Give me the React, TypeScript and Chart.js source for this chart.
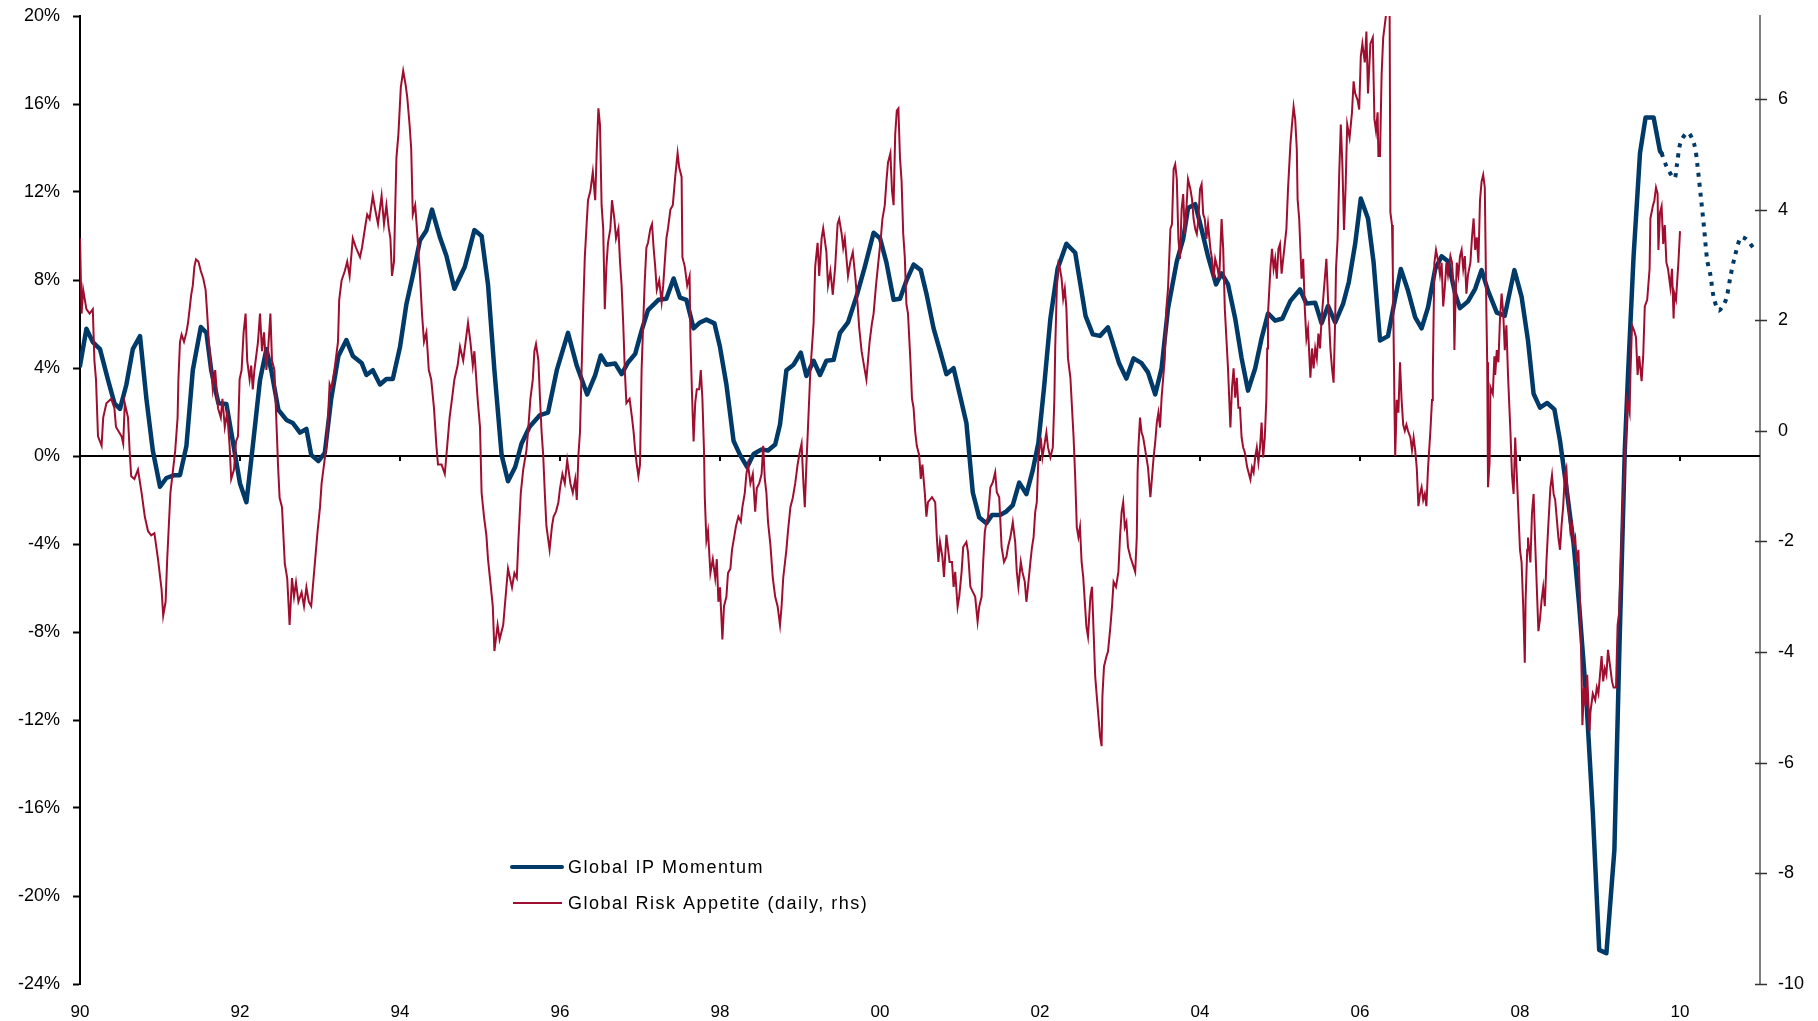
import React, { useEffect, useRef } from 'react';
import { Chart, registerables } from 'chart.js';

Chart.register(...registerables);

// ---------- Global IP Momentum (lhs, %) ----------
const ipYears = [
  1990.00, 1990.08, 1990.16, 1990.25, 1990.35, 1990.43, 1990.50, 1990.58, 1990.66, 1990.75, 1990.83, 1990.91,
  1991.00, 1991.08, 1991.18, 1991.25, 1991.33, 1991.41, 1991.51, 1991.58, 1991.64, 1991.73, 1991.83, 1991.91,
  1992.00, 1992.08, 1992.16, 1992.25, 1992.33, 1992.39, 1992.48, 1992.58, 1992.66, 1992.75, 1992.83, 1992.89, 1992.98,
  1993.06, 1993.14, 1993.23, 1993.33, 1993.41, 1993.52, 1993.58, 1993.66, 1993.75, 1993.83, 1993.91,
  1994.00, 1994.08, 1994.16, 1994.25, 1994.33, 1994.40, 1994.50, 1994.58, 1994.68, 1994.81, 1994.93,
  1995.02, 1995.10, 1995.18, 1995.27, 1995.35, 1995.44, 1995.52, 1995.62, 1995.75, 1995.85, 1995.96,
  1996.10, 1996.21, 1996.34, 1996.44, 1996.51, 1996.58, 1996.69, 1996.77, 1996.85, 1996.94,
  1997.02, 1997.10, 1997.23, 1997.33, 1997.42, 1997.50, 1997.58, 1997.67, 1997.75, 1997.83, 1997.93,
  1998.00, 1998.08, 1998.17, 1998.25, 1998.34, 1998.42, 1998.52, 1998.60, 1998.69, 1998.75, 1998.83, 1998.92,
  1999.01, 1999.08, 1999.17, 1999.25, 1999.33, 1999.42, 1999.50, 1999.60, 1999.71, 1999.81, 1999.92,
  2000.00, 2000.08, 2000.17, 2000.25, 2000.33, 2000.42, 2000.51, 2000.58, 2000.67, 2000.75, 2000.83, 2000.92,
  2001.00, 2001.08, 2001.16, 2001.24, 2001.33, 2001.40, 2001.50, 2001.58, 2001.66, 2001.74, 2001.83, 2001.91, 2001.98,
  2002.05, 2002.13, 2002.22, 2002.33, 2002.44, 2002.57, 2002.66, 2002.75, 2002.85, 2002.99,
  2003.08, 2003.17, 2003.27, 2003.35, 2003.44, 2003.52, 2003.60, 2003.71, 2003.79, 2003.85, 2003.94,
  2004.02, 2004.10, 2004.20, 2004.27, 2004.35, 2004.44, 2004.52, 2004.60, 2004.69, 2004.77, 2004.85, 2004.94,
  2005.03, 2005.13, 2005.25, 2005.33, 2005.44, 2005.52, 2005.60, 2005.69, 2005.79, 2005.86, 2005.94,
  2006.01, 2006.10, 2006.17, 2006.25, 2006.35, 2006.42, 2006.51, 2006.60, 2006.69, 2006.77, 2006.85, 2006.94,
  2007.02, 2007.10, 2007.19, 2007.25, 2007.35, 2007.44, 2007.52, 2007.60, 2007.71, 2007.81, 2007.93,
  2008.02, 2008.10, 2008.17, 2008.25, 2008.34, 2008.43, 2008.50, 2008.58, 2008.67, 2008.74, 2008.83, 2008.91, 2008.99,
  2009.08, 2009.18, 2009.24, 2009.31, 2009.35, 2009.42, 2009.50, 2009.57, 2009.67, 2009.75, 2009.77,
];
const ipValues = [
  4.1, 5.78, 5.18, 4.86, 3.46, 2.4, 2.14, 3.25, 4.86, 5.45, 2.6, 0.25,
  -1.4, -1.0, -0.87, -0.87, 0.45, 3.9, 5.86, 5.6, 3.9, 2.4, 2.36, 0.68,
  -1.25, -2.1, 0.45, 3.45, 4.86, 3.9, 2.1, 1.64, 1.5, 1.06, 1.23, 0.05, -0.23,
  0.14, 2.6, 4.55, 5.27, 4.55, 4.23, 3.68, 3.9, 3.25, 3.5, 3.5,
  4.95, 6.9, 8.2, 9.8, 10.25, 11.2, 9.93, 9.1, 7.6, 8.6, 10.27,
  10.0, 7.8, 3.9, 0.05, -1.15, -0.5, 0.57, 1.33, 1.86, 1.97, 3.9,
  5.6, 4.1, 2.8, 3.68, 4.57, 4.15, 4.2, 3.72, 4.25, 4.64,
  5.7, 6.63, 7.1, 7.15, 8.07, 7.2, 7.1, 5.8, 6.07, 6.2, 6.03,
  4.95, 3.25, 0.68, 0.05, -0.5, 0.09, 0.3, 0.25, 0.52, 1.43, 3.9, 4.15,
  4.7, 3.64, 4.33, 3.68, 4.33, 4.37, 5.6, 6.07, 7.3, 8.6, 10.15,
  9.9, 8.8, 7.1, 7.15, 7.97, 8.7, 8.45, 7.39, 5.8, 4.78, 3.72, 3.99,
  2.75, 1.5, -1.66, -2.79, -3.06, -2.68, -2.68, -2.52, -2.23, -1.21, -1.73, -0.64, 0.6,
  3.09, 6.25, 8.51, 9.65, 9.24, 6.36, 5.53, 5.46, 5.85, 4.2,
  3.52, 4.44, 4.22, 3.8, 2.8, 3.99, 6.7, 8.85, 9.87, 11.27, 11.45,
  10.3, 9.08, 7.8, 8.3, 7.8, 6.25, 4.45, 2.97, 3.99, 5.35, 6.48, 6.15,
  6.25, 7.05, 7.57, 6.93, 6.97, 6.03, 6.82, 6.07, 6.93, 7.9, 9.65,
  11.7, 10.8, 8.8, 5.25, 5.45, 6.8, 8.5, 7.52, 6.3, 5.8, 6.75, 8.5,
  9.08, 8.85, 7.37, 6.72, 7.03, 7.6, 8.45, 7.52, 6.52, 6.38, 8.45,
  7.23, 5.25, 2.83, 2.2, 2.41, 2.12, 0.7, -1.43, -3.99, -6.8, -11.1, -16.2, -22.45,
  -22.6, -17.9, -9.1, 0.27, 3.68, 9.09, 13.77, 15.39, 15.39, 13.86, 13.76,
];
const ipForecastYears = [
  2009.77, 2009.83, 2009.93, 2009.96, 2010.01, 2010.10, 2010.18, 2010.22, 2010.26, 2010.30, 2010.34,
  2010.38, 2010.42, 2010.48, 2010.53, 2010.58, 2010.63, 2010.68, 2010.76, 2010.83, 2010.92,
];
const ipForecastValues = [
  13.76, 13.18, 12.62, 13.2, 14.29, 14.7, 14.14, 13.15, 11.79, 10.4, 8.9,
  8.23, 7.24, 6.61, 6.79, 7.17, 8.15, 8.98, 9.94, 9.85, 9.44,
];

// ---------- Global Risk Appetite (daily, rhs) ----------
const riskYears1990s = [
  1990.00, 1990.02, 1990.04, 1990.08, 1990.12, 1990.16, 1990.18, 1990.20, 1990.225, 1990.27, 1990.29, 1990.33,
  1990.39, 1990.43, 1990.45, 1990.52, 1990.54, 1990.56, 1990.60, 1990.62, 1990.64, 1990.68, 1990.725, 1990.77,
  1990.81, 1990.85, 1990.89, 1990.93, 1990.975, 1991.02, 1991.04, 1991.07, 1991.09, 1991.11, 1991.13, 1991.16,
  1991.19, 1991.22, 1991.23, 1991.25, 1991.27, 1991.30, 1991.33, 1991.35, 1991.37, 1991.39, 1991.41, 1991.43,
  1991.45, 1991.48, 1991.51, 1991.54, 1991.57, 1991.59, 1991.61, 1991.64, 1991.66, 1991.69, 1991.725, 1991.76,
  1991.78, 1991.81, 1991.84, 1991.87, 1991.89, 1991.925, 1991.95, 1991.975, 1991.995, 1992.02, 1992.045, 1992.07,
  1992.09, 1992.12, 1992.14, 1992.16, 1992.18, 1992.225, 1992.25, 1992.275, 1992.30, 1992.33, 1992.35, 1992.38,
  1992.40, 1992.43, 1992.46, 1992.475, 1992.495, 1992.525, 1992.56, 1992.59, 1992.62, 1992.65, 1992.675, 1992.70,
  1992.73, 1992.77, 1992.80, 1992.83, 1992.86, 1992.89, 1992.92, 1992.94, 1992.97, 1993.00, 1993.02, 1993.05,
  1993.08, 1993.10, 1993.12, 1993.14, 1993.18, 1993.225, 1993.24, 1993.27, 1993.31, 1993.34, 1993.37, 1993.41,
  1993.45, 1993.50, 1993.525, 1993.57, 1993.59, 1993.62, 1993.66, 1993.69, 1993.725, 1993.77, 1993.80, 1993.83,
  1993.86, 1993.88, 1993.90, 1993.925, 1993.955, 1993.98, 1994.01, 1994.04, 1994.07, 1994.09, 1994.12, 1994.14,
  1994.16, 1994.19, 1994.22, 1994.25, 1994.275, 1994.30, 1994.33, 1994.36, 1994.39, 1994.425, 1994.455, 1994.475,
  1994.52, 1994.56, 1994.59, 1994.62, 1994.65, 1994.68, 1994.72, 1994.75, 1994.79, 1994.82, 1994.85, 1994.88,
  1994.91, 1994.93, 1994.97, 1995.00, 1995.02, 1995.05, 1995.08, 1995.10, 1995.13, 1995.16, 1995.18, 1995.22,
  1995.245, 1995.29, 1995.33, 1995.35, 1995.40, 1995.43, 1995.46, 1995.48, 1995.51, 1995.54, 1995.58, 1995.60,
  1995.63, 1995.66, 1995.68, 1995.70, 1995.73, 1995.75, 1995.77, 1995.79, 1995.81, 1995.83, 1995.87, 1995.90,
  1995.92, 1995.95, 1995.98, 1996.00, 1996.03, 1996.06, 1996.09, 1996.13, 1996.16, 1996.19, 1996.21, 1996.23,
  1996.25, 1996.27, 1996.29, 1996.31, 1996.33, 1996.35, 1996.38, 1996.41, 1996.44, 1996.46, 1996.48, 1996.50,
  1996.52, 1996.54, 1996.56, 1996.58, 1996.60, 1996.63, 1996.65, 1996.68, 1996.70, 1996.73, 1996.75, 1996.77,
  1996.79, 1996.81, 1996.83, 1996.87, 1996.90, 1996.92, 1996.94, 1996.96, 1996.98, 1997.00, 1997.02, 1997.04,
  1997.06, 1997.08, 1997.10, 1997.13, 1997.15, 1997.17, 1997.19, 1997.21, 1997.24, 1997.27, 1997.29, 1997.33,
  1997.35, 1997.38, 1997.41, 1997.44, 1997.47, 1997.49, 1997.52, 1997.53, 1997.56, 1997.59, 1997.62, 1997.63,
  1997.65, 1997.67, 1997.69, 1997.71, 1997.74, 1997.76, 1997.78, 1997.80, 1997.81, 1997.83, 1997.85, 1997.88,
  1997.91, 1997.94, 1997.96, 1997.98, 1998.00, 1998.03, 1998.05, 1998.08, 1998.10, 1998.13, 1998.15, 1998.17,
  1998.20, 1998.23, 1998.26, 1998.28, 1998.31, 1998.33, 1998.35, 1998.38, 1998.41, 1998.44, 1998.46, 1998.49,
  1998.52, 1998.54, 1998.56, 1998.58, 1998.60, 1998.63, 1998.66, 1998.69, 1998.72, 1998.75, 1998.77, 1998.79,
  1998.83, 1998.85, 1998.88, 1998.91, 1998.94, 1998.97, 1999.00, 1999.02, 1999.04, 1999.06, 1999.08, 1999.10,
  1999.13, 1999.17, 1999.19, 1999.22, 1999.24, 1999.27, 1999.29, 1999.33, 1999.35, 1999.38, 1999.41, 1999.44,
  1999.47, 1999.49, 1999.52, 1999.54, 1999.56, 1999.58, 1999.60, 1999.63, 1999.66, 1999.69, 1999.72, 1999.74,
  1999.77, 1999.80, 1999.83, 1999.84, 1999.87, 1999.90, 1999.92, 1999.95, 1999.98,
];
const riskValues1990s = [
  3.48, 2.12, 2.55, 2.2, 2.12, 2.2, 1.27, 0.93, -0.1, -0.27, 0.24, 0.5,
  0.58, 0.41, 0.07, -0.1, -0.23, 0.5, 0.24, -0.35, -0.82, -0.87, -0.7, -1.12,
  -1.55, -1.81, -1.89, -1.85, -2.32, -2.87, -3.34, -3.09, -2.32, -1.72, -1.12, -0.74,
  -0.36, 0.24, 0.93, 1.61, 1.74, 1.61, 1.78, 1.95, 2.2, 2.46, 2.63, 2.97,
  3.1, 3.06, 2.89, 2.76, 2.55, 2.12, 1.61, 1.1, 0.75, 1.1, 0.41, 0.24,
  0.58, 0.07, 0.33, -0.27, -0.87, -0.7, -0.19, -0.1, 0.93, 1.1, 1.78, 2.12,
  1.27, 0.93, 1.18, 0.75, 1.1, 1.61, 2.12, 1.44, 1.78, 1.1, 1.44, 2.12,
  1.27, 1.1, -0.02, -0.61, -1.21, -1.38, -2.4, -2.66, -3.51, -2.66, -3.0, -2.74,
  -3.09, -2.92, -3.17, -2.83, -3.09, -3.17, -2.66, -2.32, -1.81, -1.38, -0.95, -0.61,
  -0.27, 0.24, 0.84, 0.75, 1.1, 1.61, 2.37, 2.72, 2.89, 3.06, 2.8, 3.48,
  3.31, 3.14, 3.31, 3.74, 3.91, 3.83, 4.25, 4.0, 3.74, 4.25, 3.74, 4.08,
  3.66, 3.48, 2.8, 3.06, 4.93, 5.36, 6.21, 6.51, 6.26, 6.04, 5.53, 5.1,
  3.91, 4.08, 3.48, 2.8, 2.12, 1.61, 1.78, 1.1, 0.93, 0.41, -0.27, -0.61,
  -0.61, -0.78, -0.27, 0.24, 0.58, 0.93, 1.18, 1.52, 1.27, 1.61, 1.95, 1.61,
  1.18, 1.44, 0.58, 0.07, -1.12, -1.55, -1.89, -2.32, -2.74, -3.17, -3.98, -3.51,
  -3.77, -3.51, -2.83, -2.49, -2.83, -2.57, -2.66, -1.98, -1.12, -0.7, -0.36, -0.02,
  0.58, 0.93, 1.44, 1.57, 1.27, 0.58, -0.02, -0.44, -1.12, -1.72, -2.15, -1.72,
  -1.55, -1.46, -1.29, -1.04, -0.78, -0.95, -0.53, -0.95, -1.12, -0.87, -1.25, -0.44,
  -0.02, 1.1, 2.2, 3.14, 3.66, 4.17, 4.34, 4.68, 4.17, 5.1, 5.83, 5.53,
  4.08, 3.66, 2.2, 2.97, 3.4, 3.66, 4.17, 3.83, 3.48, 3.66, 3.06, 2.63,
  1.95, 1.1, 0.5, 0.58, 0.24, -0.02, -0.36, -0.61, -0.82, -0.61, 1.1, 1.95,
  2.72, 3.31, 3.4, 3.66, 3.74, 3.31, 2.97, 2.55, 2.72, 2.33, 2.63, 3.48,
  3.66, 4.0, 4.08, 4.59, 5.02, 4.76, 4.59, 3.14, 2.97, 2.63, 2.8, 1.69,
  0.67, -0.19, 0.5, 0.75, 0.75, 1.1, 0.58, -0.36, -1.21, -1.98, -1.81, -2.57,
  -2.32, -2.66, -2.32, -3.09, -2.83, -3.77, -3.17, -3.0, -2.57, -2.49, -2.15, -1.98,
  -1.72, -1.55, -1.64, -1.38, -1.12, -0.78, -0.61, -0.95, -0.78, -1.46, -1.04, -0.95,
  -0.78, -0.27, -0.87, -1.12, -1.64, -2.06, -2.66, -3.0, -3.17, -3.51, -3.17, -2.66,
  -2.15, -1.81, -1.38, -1.21, -0.95, -0.61, -0.36, -0.23, -0.87, -1.38, -0.61, 0.07,
  1.1, 1.95, 2.97, 3.4, 2.8, 3.48, 3.66, 3.23, 2.63, 2.89, 2.46, 2.97,
  3.74, 3.83, 3.57, 3.31, 3.48, 3.14, 2.8, 3.06, 3.23, 2.8, 2.29, 1.86,
  1.44, 1.18, 0.93, 1.1, 1.61, 1.95, 2.12, 2.63, 3.06,
];
const riskYears2000s = [
  2000.01, 2000.03, 2000.06, 2000.08, 2000.10, 2000.13, 2000.15, 2000.17, 2000.19, 2000.21, 2000.23, 2000.25,
  2000.27, 2000.29, 2000.31, 2000.33, 2000.35, 2000.38, 2000.40, 2000.42, 2000.44, 2000.46, 2000.49, 2000.51,
  2000.53, 2000.56, 2000.58, 2000.60, 2000.65, 2000.69, 2000.71, 2000.73, 2000.75, 2000.78, 2000.80, 2000.83,
  2000.87, 2000.90, 2000.92, 2000.94, 2000.97, 2000.99, 2001.02, 2001.04, 2001.08, 2001.10, 2001.13, 2001.16,
  2001.19, 2001.22, 2001.24, 2001.27, 2001.29, 2001.31, 2001.33, 2001.35, 2001.38, 2001.41, 2001.44, 2001.46,
  2001.49, 2001.52, 2001.55, 2001.58, 2001.60, 2001.63, 2001.66, 2001.69, 2001.71, 2001.73, 2001.76, 2001.78,
  2001.81, 2001.83, 2001.85, 2001.88, 2001.90, 2001.92, 2001.94, 2001.96, 2001.98, 2002.01, 2002.03, 2002.06,
  2002.08, 2002.10, 2002.13, 2002.16, 2002.18, 2002.19, 2002.21, 2002.23, 2002.25, 2002.27, 2002.29, 2002.31,
  2002.33, 2002.35, 2002.38, 2002.40, 2002.42, 2002.44, 2002.46, 2002.48, 2002.50, 2002.52, 2002.54, 2002.56,
  2002.58, 2002.60, 2002.63, 2002.65, 2002.67, 2002.69, 2002.71, 2002.73, 2002.75, 2002.77, 2002.78, 2002.80,
  2002.83, 2002.85, 2002.88, 2002.90, 2002.92, 2002.95, 2002.98, 2003.00, 2003.02, 2003.04, 2003.06, 2003.08,
  2003.10, 2003.13, 2003.17, 2003.19, 2003.21, 2003.22, 2003.23, 2003.25, 2003.27, 2003.29, 2003.31, 2003.33,
  2003.35, 2003.38, 2003.40, 2003.42, 2003.44, 2003.46, 2003.48, 2003.50, 2003.52, 2003.54, 2003.56, 2003.58,
  2003.60, 2003.63, 2003.65, 2003.67, 2003.69, 2003.71, 2003.73, 2003.75, 2003.77, 2003.79, 2003.81, 2003.83,
  2003.85, 2003.88, 2003.90, 2003.92, 2003.94, 2003.96, 2003.98, 2004.00, 2004.02, 2004.04, 2004.06, 2004.08,
  2004.10, 2004.13, 2004.15, 2004.17, 2004.19, 2004.22, 2004.24, 2004.27, 2004.29, 2004.31, 2004.33, 2004.35,
  2004.38, 2004.40, 2004.42, 2004.44, 2004.46, 2004.48, 2004.50, 2004.52, 2004.54, 2004.56, 2004.59, 2004.63,
  2004.65, 2004.67, 2004.69, 2004.71, 2004.73, 2004.75, 2004.77, 2004.79, 2004.81, 2004.83, 2004.84, 2004.85,
  2004.88, 2004.90, 2004.92, 2004.94, 2004.96, 2004.98, 2005.00, 2005.02, 2005.04, 2005.06, 2005.08, 2005.10,
  2005.13, 2005.15, 2005.17, 2005.19, 2005.21, 2005.22, 2005.24, 2005.26, 2005.27, 2005.29, 2005.31, 2005.33,
  2005.35, 2005.38, 2005.40, 2005.42, 2005.44, 2005.46, 2005.48, 2005.50, 2005.52, 2005.54, 2005.56, 2005.58,
  2005.60, 2005.63, 2005.65, 2005.67, 2005.69, 2005.70, 2005.72, 2005.74, 2005.76, 2005.78, 2005.80, 2005.82,
  2005.84, 2005.87, 2005.90, 2005.92, 2005.94, 2005.97, 2005.99, 2006.01, 2006.03, 2006.06, 2006.08, 2006.10,
  2006.13, 2006.16, 2006.18, 2006.20, 2006.22, 2006.23, 2006.25, 2006.27, 2006.29, 2006.31, 2006.34, 2006.37,
  2006.38, 2006.40, 2006.41, 2006.43, 2006.44, 2006.46, 2006.48, 2006.50, 2006.52, 2006.54, 2006.56, 2006.58,
  2006.60, 2006.63, 2006.65, 2006.67, 2006.69, 2006.71, 2006.73, 2006.75, 2006.77, 2006.79, 2006.81, 2006.83,
  2006.85, 2006.88, 2006.90, 2006.91, 2006.93, 2006.95, 2006.98, 2007.00, 2007.02, 2007.04, 2007.06, 2007.08,
  2007.10, 2007.13, 2007.15, 2007.17, 2007.18, 2007.19, 2007.21, 2007.23, 2007.25, 2007.27, 2007.29, 2007.31,
  2007.33, 2007.35, 2007.38, 2007.40, 2007.42, 2007.44, 2007.46, 2007.48, 2007.50, 2007.52, 2007.54, 2007.56,
  2007.58, 2007.59, 2007.60, 2007.62, 2007.63, 2007.66, 2007.68, 2007.69, 2007.71, 2007.73, 2007.75, 2007.77,
  2007.79, 2007.81, 2007.83, 2007.85, 2007.87, 2007.88, 2007.90, 2007.92, 2007.94, 2007.96, 2007.98, 2008.00,
  2008.02, 2008.04, 2008.06, 2008.07, 2008.09, 2008.10, 2008.13, 2008.15, 2008.17, 2008.19, 2008.21, 2008.23,
  2008.25, 2008.27, 2008.29, 2008.31, 2008.33, 2008.35, 2008.38, 2008.40, 2008.42, 2008.44, 2008.46, 2008.48,
  2008.50, 2008.52, 2008.54, 2008.56, 2008.58, 2008.60, 2008.63, 2008.65, 2008.67, 2008.69, 2008.71, 2008.73,
  2008.75, 2008.77, 2008.78, 2008.80, 2008.82, 2008.84, 2008.87, 2008.88, 2008.91, 2008.94, 2008.96, 2008.98,
  2009.00, 2009.02, 2009.04, 2009.06, 2009.08, 2009.10, 2009.13, 2009.15, 2009.17, 2009.20, 2009.22, 2009.24,
  2009.26, 2009.28, 2009.30, 2009.33, 2009.34, 2009.37, 2009.38, 2009.40, 2009.43, 2009.45, 2009.47, 2009.49,
  2009.52, 2009.54, 2009.56, 2009.59, 2009.62, 2009.63, 2009.66, 2009.68, 2009.70, 2009.72, 2009.73, 2009.75,
  2009.77, 2009.79, 2009.81, 2009.83, 2009.85, 2009.88, 2009.90, 2009.92, 2009.93, 2009.95, 2009.97, 2009.98,
  2010.00,
];
const riskValues2000s = [
  3.48, 3.83, 4.08, 4.51, 4.85, 5.02, 4.34, 4.08, 5.36, 5.79, 5.83, 4.93,
  4.51, 3.57, 3.14, 2.29, 2.12, 1.27, 0.58, 0.41, -0.02, -0.27, -0.44, -0.87,
  -0.61, -1.12, -1.55, -1.29, -1.2, -1.29, -1.92, -2.37, -2.01, -2.28, -2.64, -1.88,
  -2.37, -2.37, -2.82, -2.55, -3.18, -3.0, -2.55, -2.1, -2.01, -2.19, -2.82, -2.91,
  -3.0, -3.45, -3.18, -3.0, -2.37, -1.83, -1.65, -1.56, -1.02, -0.93, -0.75, -1.11,
  -1.2, -2.1, -2.37, -2.28, -2.1, -1.92, -1.65, -2.01, -2.55, -2.82, -2.37, -2.55,
  -2.73, -3.09, -2.82, -2.37, -2.1, -1.92, -1.47, -1.29, -0.48, -0.12, -0.48, -0.21,
  -0.03, -0.3, -0.48, -0.3, 0.6, 1.49, 2.57, 3.02, 2.93, 2.75, 2.39, 2.57,
  2.21, 1.31, 0.96, 0.42, -0.12, -0.84, -1.74, -1.92, -1.74, -2.37, -2.64, -3.09,
  -3.54, -3.72, -3.0, -2.82, -3.63, -4.44, -4.8, -5.16, -5.52, -5.7, -4.8, -4.26,
  -4.08, -3.99, -3.54, -3.18, -2.73, -2.82, -2.55, -1.92, -1.47, -1.29, -1.74, -1.65,
  -2.1, -2.28, -2.46, -2.55, -1.92, -0.75, -0.3, 0.24, -0.03, -0.12, -0.3, -0.48,
  -0.66, -1.2, -0.84, -0.48, -0.21, 0.15, 0.33, 0.06, 0.6, 0.96, 1.31, 2.21,
  2.57, 3.65, 3.74, 4.73, 4.82, 4.55, 3.47, 3.11, 4.01, 4.28, 3.56, 4.01,
  4.55, 4.37, 4.19, 3.83, 3.65, 3.56, 3.83, 4.37, 4.46, 3.92, 3.83, 3.47,
  3.74, 3.29, 3.11, 2.75, 3.11, 2.93, 2.75, 3.83, 3.29, 2.21, 1.67, 1.13,
  0.06, 0.78, 1.13, 0.6, 0.96, 0.42, 0.42, -0.12, -0.3, -0.39, -0.66, -0.88,
  -0.66, -0.75, -0.48, -0.3, -0.57, -0.3, 0.15, -0.48, -0.12, 0.6, 1.49, 2.12,
  2.93, 3.29, 2.93, 3.11, 2.75, 3.29, 3.38, 2.84, 3.11, 3.38, 3.65, 4.37,
  5.18, 5.54, 5.86, 5.63, 5.09, 4.19, 3.83, 3.11, 2.75, 3.11, 2.21, 1.67,
  1.85, 0.96, 1.49, 1.13, 1.49, 1.31, 1.76, 1.49, 2.03, 2.39, 2.75, 3.11,
  2.39, 1.49, 1.13, 0.87, 2.03, 2.93, 3.47, 4.64, 5.54, 4.8, 3.63, 4.4,
  5.54, 5.3, 5.76, 6.32, 6.1, 5.98, 5.81, 6.77, 7.0, 6.66, 7.22, 6.1,
  7.0, 7.11, 5.64, 5.42, 5.76, 4.97, 4.97, 6.43, 7.11, 7.34, 7.7, 7.7,
  3.95, 3.72, 2.93, 0.56, -0.46, 0.56, 0.33, 1.24, 0.56, 0.11, 0.0, 0.11,
  0.0, -0.12, -0.35, -0.12, -0.35, -0.68, -1.36, -1.14, -1.02, -1.25, -1.14, -1.36,
  -0.68, 0.0, 0.56, 1.01, 3.04, 3.27, 3.04, 2.82, 3.04, 2.25, 2.59, 3.04,
  2.82, 3.16, 3.04, 2.59, 1.46, 2.14, 3.04, 2.82, 3.16, 3.27, 2.93, 3.16,
  2.48, 2.82, 3.04, 3.5, 3.84, 3.27, 3.5, 3.04, 4.17, 4.51, 4.63, 4.4,
  2.14, 1.24, -1.02, -0.57, 0.79, 0.67, 1.35, 1.01, 1.46, 1.24, 2.03, 2.48,
  2.14, 1.46, 1.91, 1.01, 0.33, 0.0, -0.8, -1.14, -0.12, -0.8, -1.48, -2.15,
  -2.38, -3.17, -4.19, -3.06, -2.15, -1.93, -2.38, -1.48, -1.14, -2.04, -2.83, -3.62,
  -3.4, -3.06, -2.83, -3.17, -2.38, -1.81, -1.02, -0.8, -1.14, -1.25, -1.59, -1.93,
  -2.15, -1.7, -1.36, -0.8, -0.68, -1.25, -1.81, -1.7, -2.04, -1.93, -2.38, -2.15,
  -3.06, -4.41, -5.32, -4.64, -4.98, -4.41, -5.43, -5.09, -4.75, -4.87, -4.64, -4.75,
  -4.41, -4.07, -4.53, -4.3, -4.41, -3.96, -4.3, -4.53, -4.64, -4.64, -3.51, -3.28,
  -2.38, -1.48, -0.91, 0.11, 0.56, 0.33, 1.01, 1.91, 1.8, 1.69, 1.01, 1.35,
  0.9, 1.35, 2.25, 2.37, 2.93, 3.84, 4.06, 4.17, 4.4, 4.29, 3.27, 3.95,
  4.06, 3.38, 3.72, 3.04, 2.93, 2.59, 2.93, 2.03, 2.48, 2.37, 2.82, 3.04,
  3.61,
];

// ---------- Axes / legend ----------
const xTickYears = [1990, 1992, 1994, 1996, 1998, 2000, 2002, 2004, 2006, 2008, 2010];
const leftTicks = [20, 16, 12, 8, 4, 0, -4, -8, -12, -16, -20, -24];
const rightTicks = [6, 4, 2, 0, -2, -4, -6, -8, -10];
const legendLabels = ['Global IP Momentum', 'Global Risk Appetite (daily, rhs)'];

const BLUE = '#003a68';
const RED = '#a00e2f';
const FONT = '"Liberation Sans", Arial, Helvetica, sans-serif';

const toXY = (xs: number[], ys: number[]) => xs.map((x, i) => ({ x, y: ys[i] }));

const decorPlugin = {
  id: 'decor',
  beforeDatasetsDraw(chart: any) {
    const { ctx, chartArea, scales } = chart;
    const y0 = scales.yL.getPixelForValue(0);
    ctx.save();
    ctx.strokeStyle = '#000';
    ctx.lineWidth = 2;
    ctx.beginPath();
    ctx.moveTo(chartArea.left, y0);
    ctx.lineTo(chartArea.right, y0);
    for (const yr of xTickYears) {
      if (yr === xTickYears[0]) continue;
      const x = scales.x.getPixelForValue(yr);
      ctx.moveTo(x, y0);
      ctx.lineTo(x, y0 + 5);
    }
    ctx.stroke();
    ctx.restore();
  },
  afterDraw(chart: any) {
    const { ctx, chartArea, scales } = chart;
    ctx.save();
    // right axis tick marks crossing the axis
    ctx.strokeStyle = '#333';
    ctx.lineWidth = 1.5;
    ctx.beginPath();
    for (const v of rightTicks) {
      const y = Math.round(scales.yR.getPixelForValue(v)) + 0.5;
      ctx.moveTo(chartArea.right - 5, y);
      ctx.lineTo(chartArea.right + 7, y);
    }
    ctx.stroke();
    // legend
    const lx = 512;
    const ly = 867;
    ctx.font = `18px ${FONT}`;
    (ctx as any).letterSpacing = '1.5px';
    ctx.textBaseline = 'middle';
    ctx.textAlign = 'left';
    ctx.fillStyle = '#000';
    ctx.lineCap = 'round';
    ctx.strokeStyle = BLUE;
    ctx.lineWidth = 4;
    ctx.beginPath();
    ctx.moveTo(lx, ly);
    ctx.lineTo(lx + 50, ly);
    ctx.stroke();
    ctx.fillText(legendLabels[0], lx + 56, ly + 1);
    ctx.strokeStyle = RED;
    ctx.lineWidth = 2;
    ctx.lineCap = 'butt';
    ctx.beginPath();
    ctx.moveTo(lx + 1, ly + 36);
    ctx.lineTo(lx + 50, ly + 36);
    ctx.stroke();
    ctx.fillText(legendLabels[1], lx + 56, ly + 37);
    ctx.restore();
  },
};

export default function App() {
  const canvasRef = useRef<HTMLCanvasElement | null>(null);

  useEffect(() => {
    document.body.style.margin = '0';
    const canvas = canvasRef.current;
    if (!canvas) return;
    const chart = new Chart(canvas, {
      type: 'line',
      data: {
        datasets: [
          {
            label: legendLabels[1],
            data: toXY(riskYears1990s.concat(riskYears2000s), riskValues1990s.concat(riskValues2000s)),
            yAxisID: 'yR',
            borderColor: RED,
            borderWidth: 2,
            pointRadius: 0,
            tension: 0,
            order: 0,
          },
          {
            label: legendLabels[0],
            data: toXY(ipYears, ipValues),
            yAxisID: 'yL',
            borderColor: BLUE,
            borderWidth: 4.5,
            borderJoinStyle: 'round',
            borderCapStyle: 'round',
            pointRadius: 0,
            tension: 0,
            order: 1,
          },
          {
            label: 'forecast',
            data: toXY(ipForecastYears, ipForecastValues),
            yAxisID: 'yL',
            borderColor: BLUE,
            borderWidth: 4,
            borderDash: [4, 6],
            pointRadius: 0,
            tension: 0.3,
            order: 1,
          },
        ],
      } as any,
      options: {
        responsive: false,
        animation: false,
        devicePixelRatio: 1,
        layout: { padding: { top: 16, left: 0, right: 0, bottom: 0 } },
        plugins: { legend: { display: false }, tooltip: { enabled: false } },
        scales: {
          x: {
            type: 'linear',
            min: 1990,
            max: 2011,
            afterBuildTicks: (s: any) => {
              s.ticks = xTickYears.map((v) => ({ value: v }));
            },
            afterFit: (s: any) => {
              s.height = 37;
              s.paddingLeft = 0;
              s.paddingRight = 0;
            },
            ticks: {
              autoSkip: false,
              maxRotation: 0,
              padding: 10,
              color: '#000',
              font: { family: FONT, size: 17 },
              callback: (v: any) => String(Number(v) % 100).padStart(2, '0'),
            },
            grid: { display: false },
            border: { display: false },
          },
          yL: {
            type: 'linear',
            position: 'left',
            min: -24,
            max: 20,
            afterBuildTicks: (s: any) => {
              s.ticks = leftTicks.map((v) => ({ value: v }));
            },
            afterFit: (s: any) => {
              s.width = 80;
              s.paddingTop = 0;
              s.paddingBottom = 0;
            },
            ticks: {
              padding: 13,
              color: '#000',
              font: { family: FONT, size: 18 },
              callback: (v: any) => `${v}%`,
            },
            grid: { drawOnChartArea: false, drawTicks: true, tickLength: 7, tickColor: '#000', tickWidth: 2 },
            border: { display: true, color: '#000', width: 2 },
          },
          yR: {
            type: 'linear',
            position: 'right',
            min: -10,
            max: 7.5,
            afterBuildTicks: (s: any) => {
              s.ticks = rightTicks.map((v) => ({ value: v }));
            },
            afterFit: (s: any) => {
              s.width = 58;
              s.paddingTop = 0;
              s.paddingBottom = 0;
            },
            ticks: {
              padding: 18,
              color: '#000',
              font: { family: FONT, size: 18 },
            },
            grid: { drawOnChartArea: false, drawTicks: false },
            border: { display: true, color: '#7f7f7f', width: 2 },
          },
        },
      } as any,
      plugins: [decorPlugin],
    });
    return () => chart.destroy();
  }, []);

  return (
    <div style={{ width: 1818, height: 1021, position: 'relative', background: '#fff' }}>
      <canvas ref={canvasRef} width={1818} height={1021} style={{ display: 'block' }} />
    </div>
  );
}
